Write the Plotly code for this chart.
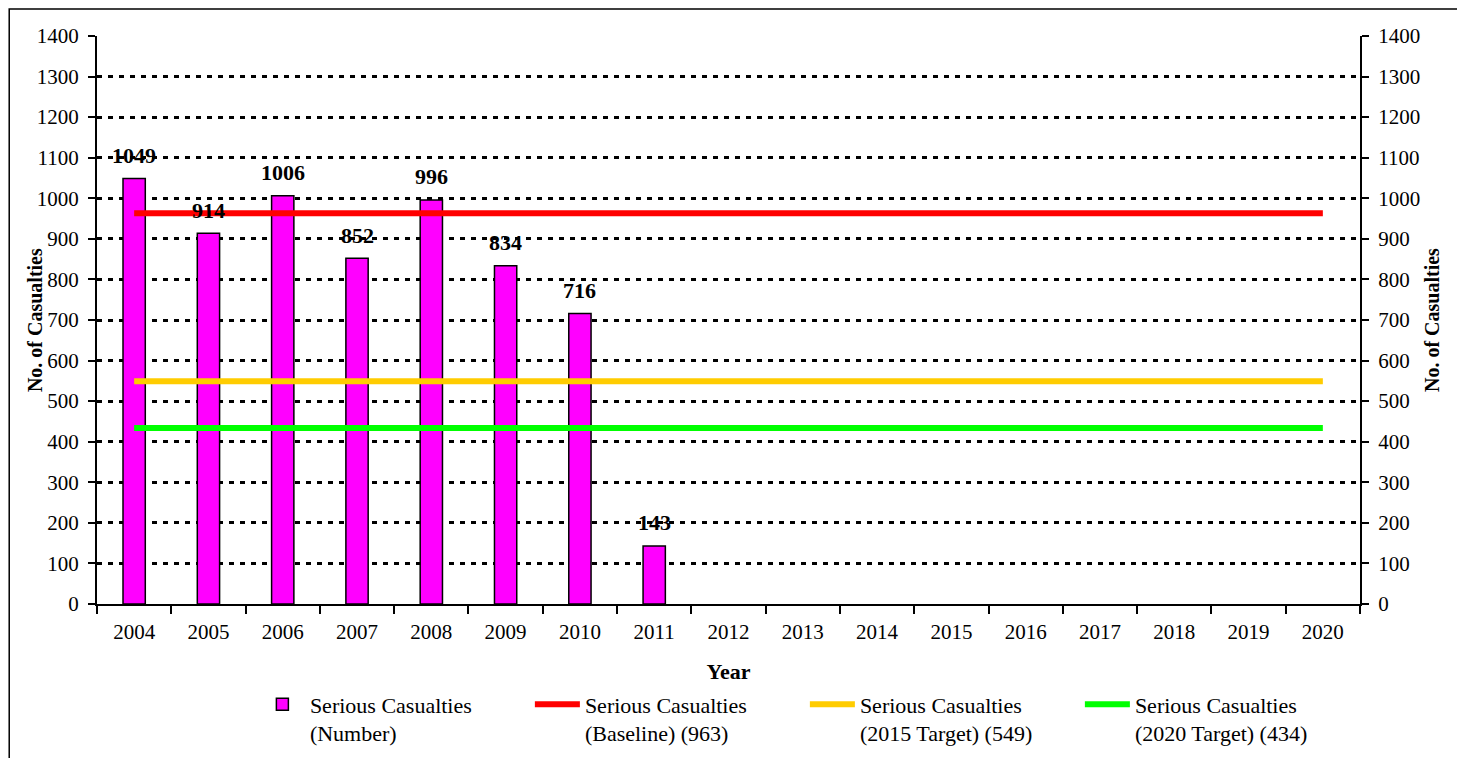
import plotly.graph_objects as go

years = [str(y) for y in range(2004, 2021)]
bar_years = ["2004", "2005", "2006", "2007", "2008", "2009", "2010", "2011"]
serious = [1049, 914, 1006, 852, 996, 834, 716, 143]
baseline = 963
target_2015 = 549
target_2020 = 434
y_ticks = list(range(0, 1401, 100))

FONT = "Liberation Serif"
FS = 22

fig = go.Figure()
fig.add_trace(go.Bar(
    x=bar_years, y=serious, name="Serious Casualties<br>(Number)",
    marker=dict(color="#FF00FF", line=dict(color="black", width=1.5)),
    width=0.3,
))
for val, col, nm in [(baseline, "#FF0000", "Serious Casualties<br>(Baseline) (963)"),
                     (target_2015, "#FFCC00", "Serious Casualties<br>(2015 Target) (549)"),
                     (target_2020, "#00FF00", "Serious Casualties<br>(2020 Target) (434)")]:
    fig.add_trace(go.Scatter(
        x=years, y=[val] * len(years), mode="lines", name=nm,
        line=dict(color=col, width=6), yaxis="y2",
    ))

for x, v in zip(bar_years, serious):
    fig.add_annotation(x=years.index(x), y=v, text="<b>%d</b>" % v, showarrow=False,
                       yshift=23, font=dict(family=FONT, size=FS, color="black"))

title_font = dict(family=FONT, size=20, color="black")
# axis titles, placed close to the tick labels as in the original
for xpos in (-0.049, 1.057):
    fig.add_annotation(xref="paper", yref="paper", x=xpos, y=0.5, xanchor="center",
                       yanchor="middle", textangle=-90, showarrow=False,
                       text="<b>No. of Casualties</b>", font=title_font)

axis_common = dict(range=[0, 1400], tickvals=y_ticks, ticks="outside", ticklen=7,
                   tickcolor="black", tickwidth=1.5, showline=True, linecolor="black",
                   linewidth=2, tickfont=dict(family=FONT, size=21, color="black"),
                   ticklabelstandoff=5,
                   zeroline=False, automargin=False)
# page body has an 8px offset, so margins are shifted accordingly
fig.update_layout(
    width=1465, height=758,
    margin=dict(l=89, r=113, t=28, b=162, autoexpand=False),
    paper_bgcolor="white", plot_bgcolor="white",
    font=dict(family=FONT, size=FS, color="black"),
    showlegend=True,
    legend=dict(orientation="h", x=0.125, xanchor="left", y=-0.14, yanchor="top",
                entrywidth=215, entrywidthmode="pixels",
                font=dict(family=FONT, size=FS, color="black"),
                itemwidth=45, tracegroupgap=0, valign="top"),
    xaxis=dict(type="category", categoryorder="array", categoryarray=years,
               range=[-0.5, 16.5], ticks="outside", tickson="boundaries", ticklen=8,
               tickcolor="black", tickwidth=1.5, showline=True, linecolor="black",
               linewidth=2, showgrid=False, automargin=False, ticklabelstandoff=8,
               tickfont=dict(family=FONT, size=21, color="black"),
               title=dict(text="<b>Year</b>", font=dict(family=FONT, size=FS, color="black"),
                          standoff=20)),
    yaxis=dict(**axis_common, showgrid=True, gridcolor="black", gridwidth=2.5,
               griddash="5px,6px", side="left"),
    yaxis2=dict(**axis_common, overlaying="y", side="right", showgrid=False),
)

# outer chart frame
fig.add_shape(type="rect", xref="paper", yref="paper",
              x0=-0.0695, x1=1.08, y0=-0.32, y1=1.0475,
              line=dict(color="black", width=1.5), fillcolor="rgba(0,0,0,0)")

fig.write_html("out.html")
